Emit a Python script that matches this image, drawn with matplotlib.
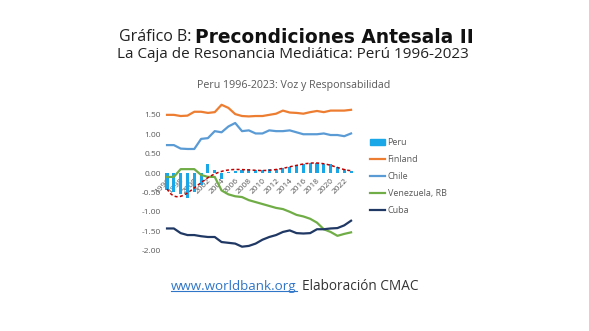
import matplotlib
matplotlib.use("Agg")
import matplotlib.pyplot as plt
from matplotlib.lines import Line2D
from matplotlib.patches import Patch
import numpy as np

years = list(range(1996, 2024))
peru = [-0.45, -0.50, -0.55, -0.65, -0.50, -0.30, 0.22, 0.08, -0.15, 0.02,
        0.05, 0.08, 0.10, 0.08, 0.08, 0.10, 0.10, 0.12, 0.15, 0.20,
        0.22, 0.25, 0.25, 0.22, 0.22, 0.15, 0.10, 0.05]
finland = [1.50, 1.50, 1.47, 1.48, 1.58, 1.58, 1.55, 1.57, 1.76, 1.68,
           1.52, 1.47, 1.46, 1.47, 1.47, 1.50, 1.53, 1.61, 1.56, 1.55,
           1.53, 1.57, 1.60, 1.57, 1.61, 1.61, 1.61, 1.63]
chile = [0.72, 0.72, 0.63, 0.62, 0.62, 0.88, 0.90, 1.08, 1.05, 1.20,
         1.29, 1.08, 1.10, 1.02, 1.02, 1.10, 1.08, 1.08, 1.10, 1.05,
         1.00, 1.00, 1.00, 1.02, 0.98, 0.98, 0.95, 1.02]
venezuela = [-0.10, -0.10, 0.10, 0.10, 0.10, -0.05, -0.10, -0.10, -0.45, -0.55,
             -0.60, -0.62, -0.70, -0.75, -0.80, -0.85, -0.90, -0.93, -1.00, -1.08,
             -1.12, -1.18, -1.28, -1.45, -1.52, -1.62, -1.57, -1.53]
cuba = [-1.43, -1.43, -1.55, -1.60, -1.60, -1.63, -1.65, -1.65, -1.78, -1.80,
        -1.82, -1.90, -1.88, -1.82, -1.72, -1.65, -1.60, -1.52, -1.48, -1.55,
        -1.56, -1.55, -1.45, -1.45, -1.43, -1.42, -1.35, -1.23]
yticks = [-2.0, -1.5, -1.0, -0.5, 0.0, 0.5, 1.0, 1.5]

c_peru = "#1AA7E8"
c_fin = "#ED7D31"
c_chi = "#5B9BD5"
c_ven = "#70AD47"
c_cub = "#203864"
grey = "#595959"

plt.rcParams["font.family"] = ["Open Sans", "DejaVu Sans"]

fig = plt.figure(figsize=(5.89, 3.31), dpi=100)
ax = fig.add_axes([0.2778, 0.243, 0.324, 0.451])
ax.spines["bottom"].set_position(("data", 0))

x = np.arange(len(years))
ax.bar(x, peru, width=0.45, color=c_peru, zorder=2)
ax.plot(x, finland, color=c_fin, lw=1.6, zorder=3)
ax.plot(x, chile, color=c_chi, lw=1.6, zorder=3)
ax.plot(x, venezuela, color=c_ven, lw=1.6, zorder=3)
ax.plot(x, cuba, color=c_cub, lw=1.6, zorder=3)

# polynomial trend of Peru (like an Excel trendline)
coef = np.polyfit(x, peru, 6)
xs = np.linspace(0, len(years) - 1, 200)
ax.plot(xs, np.polyval(coef, xs), color="#C00000", lw=1.1, ls=(0, (2, 1.5)), zorder=4)

ax.set_xlim(-0.5, len(years) - 0.5)
ax.set_ylim(-2.0, 1.85)
ax.set_yticks(yticks)
ax.set_yticklabels([f"{v:.2f}" for v in yticks])
ax.set_xticks(x[::2])
ax.set_xticklabels([str(y) for y in years[::2]], rotation=45, ha="right",
                   rotation_mode="anchor")
for s in ax.spines.values():
    s.set_visible(False)
ax.tick_params(length=0, labelsize=6, labelcolor=grey, pad=2)
ax.tick_params(axis="x", pad=3)

fig.text(0.499, 0.743, "Peru 1996-2023: Voz y Responsabilidad", fontsize=7.7, color=grey,
         ha="center", va="center")

handles = [Patch(color=c_peru),
           Line2D([], [], color=c_fin, lw=1.6),
           Line2D([], [], color=c_chi, lw=1.6),
           Line2D([], [], color=c_ven, lw=1.6),
           Line2D([], [], color=c_cub, lw=1.6)]
labels = ["Peru", "Finland", "Chile", "Venezuela, RB", "Cuba"]
fig.legend(handles, labels, loc="upper left", bbox_to_anchor=(0.615, 0.607),
           frameon=False, fontsize=6.5, labelcolor=grey, handlelength=1.6,
           handletextpad=0.3, labelspacing=0.87, handleheight=0.5)

fig.text(0.325, 0.887, "Gráfico B:", fontsize=11.5, ha="right", va="center", color="#222222")
fig.text(0.331, 0.887, "Precondiciones Antesala II", fontsize=13.4, ha="left", va="center",
         family="DejaVu Sans", fontweight="bold", color="#111111")
fig.text(0.4965, 0.834, "La Caja de Resonancia Mediática: Perú 1996-2023", fontsize=11,
         ha="center", va="center", color="#222222")

link = fig.text(0.5035, 0.133, "www.worldbank.org", fontsize=9.6, ha="right", va="center",
                color="#2F75C8")
fig.text(0.513, 0.133, "Elaboración CMAC", fontsize=9.8, ha="left", va="center", color="#333333")
fig.canvas.draw()
bb = link.get_window_extent().transformed(fig.transFigure.inverted())
fig.add_artist(Line2D([bb.x0, bb.x1], [bb.y0 + 0.008, bb.y0 + 0.008], color="#2F75C8",
                      lw=0.8, transform=fig.transFigure))

fig.savefig("out.png", dpi=100)
